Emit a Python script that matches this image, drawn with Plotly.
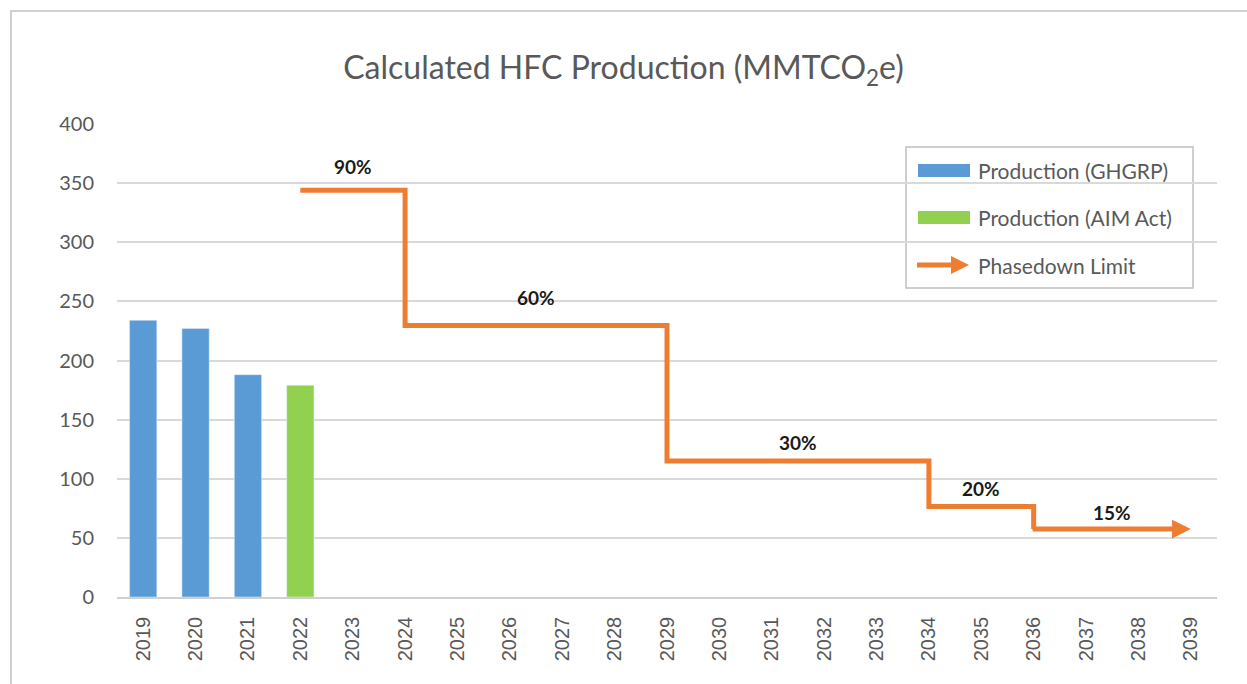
import plotly.graph_objects as go

years = [str(y) for y in range(2019, 2040)]
ghgrp_years = ["2019", "2020", "2021"]
ghgrp_values = [234, 227, 188]
aim_years = ["2022"]
aim_values = [179]
limit_years = ["2022", "2024", "2029", "2034", "2036", "2039"]
limit_values = [344, 229.5, 115, 76.5, 57.5, 57.5]
limit_labels = ["90%", "60%", "30%", "20%", "15%"]

BLUE = "#5B9BD5"
GREEN = "#92D050"
ORANGE = "#ED7D31"
GRAY_TXT = "#595959"
GRID = "#D9D9D9"
FONT = "Lato"

W, H = 1247, 684
L, R, T, B = 117, 30, 124, 87
pw, ph = W - L - R, H - T - B

def px(x):
    return (x - L) / pw

def py(y):
    return (H - B - y) / ph

fig = go.Figure()
fig.add_trace(go.Bar(x=ghgrp_years, y=ghgrp_values, marker_color=BLUE,
                     name="Production (GHGRP)", showlegend=False))
fig.add_trace(go.Bar(x=aim_years, y=aim_values, marker_color=GREEN,
                     name="Production (AIM Act)", showlegend=False))
# step line up to the last step; final segment drawn as an arrow
fig.add_trace(go.Scatter(x=limit_years[:-1], y=limit_values[:-1], mode="lines",
                         line=dict(color=ORANGE, width=5, shape="hv"),
                         name="Phasedown Limit", showlegend=False))

annotations = []
annotations.append(dict(x=years.index(limit_years[-1]), y=limit_values[-1], xref="x", yref="y",
                        ax=years.index(limit_years[-2]) - 0.05, ay=limit_values[-2],
                        axref="x", ayref="y",
                        showarrow=True, arrowhead=2, arrowwidth=5, arrowsize=0.75,
                        arrowcolor=ORANGE, text=""))

shifts = [24, 28, 19, 18, 17]
for i, lab in enumerate(limit_labels):
    i0 = years.index(limit_years[i])
    i1 = years.index(limit_years[i + 1])
    annotations.append(dict(x=(i0 + i1) / 2, y=limit_values[i], xref="x", yref="y",
                            text="<b>%s</b>" % lab, showarrow=False, yshift=shifts[i],
                            font=dict(family=FONT, size=19, color="#1A1A1A")))

# custom legend
shapes = []
shapes.append(dict(type="rect", xref="paper", yref="paper", x0=px(906), x1=px(1193),
                   y0=py(288), y1=py(147), line=dict(color="#BFBFBF", width=1.5),
                   fillcolor="white", layer="below"))
shapes.append(dict(type="rect", xref="paper", yref="paper", x0=px(918), x1=px(970),
                   y0=py(177), y1=py(164), line=dict(width=0), fillcolor=BLUE))
shapes.append(dict(type="rect", xref="paper", yref="paper", x0=px(918), x1=px(970),
                   y0=py(224), y1=py(211), line=dict(width=0), fillcolor=GREEN))
shapes.append(dict(type="line", xref="paper", yref="paper", x0=px(917), x1=px(953),
                   y0=py(265), y1=py(265), line=dict(color=ORANGE, width=5)))
shapes.append(dict(type="path", xref="paper", yref="paper",
                   path="M %f,%f L %f,%f L %f,%f Z" % (px(951), py(256), px(969), py(265),
                                                     px(951), py(274)),
                   line=dict(width=0), fillcolor=ORANGE))
# outer border
shapes.append(dict(type="rect", xref="paper", yref="paper", x0=px(11), x1=px(1260),
                   y0=py(700), y1=py(11), line=dict(color="#D0D0D0", width=2),
                   layer="below"))

for txt, yy in [("Production (GHGRP)", 170), ("Production (AIM Act)", 217),
                ("Phasedown Limit", 265)]:
    annotations.append(dict(x=px(976), y=py(yy), xref="paper", yref="paper",
                            xanchor="left", yanchor="middle", text=txt, showarrow=False,
                            font=dict(family=FONT, size=21, color=GRAY_TXT)))

fig.update_layout(
    width=W, height=H,
    margin=dict(l=L, r=R, t=T, b=B, pad=0),
    paper_bgcolor="white", plot_bgcolor="white",
    barmode="relative", bargap=0.48,
    title=dict(text="Calculated HFC Production (MMTCO<sub>2</sub>e)", x=0.5, xanchor="center",
               y=1 - 68 / H, yanchor="middle",
               font=dict(family=FONT, size=32, color=GRAY_TXT)),
    xaxis=dict(type="category", categoryorder="array", categoryarray=years,
               tickvals=years, tickangle=-90, showgrid=False, showline=True,
               linecolor="#D0D0D0", linewidth=1.5, ticks="", ticklabelstandoff=10,
               tickfont=dict(family="Liberation Sans", size=20, color=GRAY_TXT),
               range=[-0.5, len(years) - 0.5]),
    yaxis=dict(range=[0, 400], dtick=50, showgrid=True, gridcolor=GRID, gridwidth=1.5,
               zeroline=False, showline=False, ticks="", ticklabelstandoff=22,
               tickfont=dict(family=FONT, size=20, color=GRAY_TXT)),
    shapes=shapes, annotations=annotations,
)

fig.write_html("out.html", config={"displayModeBar": False},
               post_script="document.body.style.margin='0';document.body.style.overflow='hidden';")
